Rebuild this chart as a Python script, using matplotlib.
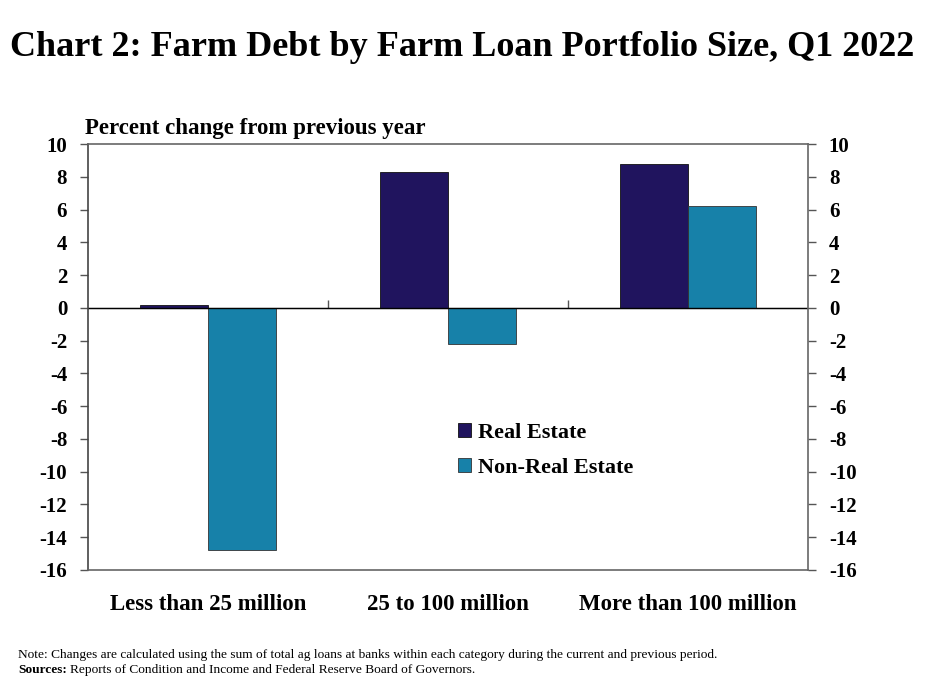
import numpy as np
import matplotlib
matplotlib.use('Agg')
import matplotlib.pyplot as plt

# data
categories = ['Less than 25 million', '25 to 100 million', 'More than 100 million']
real_estate = [0.2, 8.3, 8.8]
non_real_estate = [-14.8, -2.2, 6.2]
yticks = list(range(-16, 11, 2))

plt.rcParams['font.family'] = ['Liberation Serif', 'DejaVu Serif']
plt.rcParams['font.weight'] = 'bold'

fig = plt.figure(figsize=(9.25, 6.93), dpi=100)
ax = fig.add_axes([0.0951, 0.1775, 0.7784, 0.6147])

x = np.arange(len(categories))
w = 0.283
ax.bar(x - w / 2, real_estate, w, color='#20145e', edgecolor='#111111', linewidth=0.6, label='Real Estate')
ax.bar(x + w / 2, non_real_estate, w, color='#1781a9', edgecolor='#333333', linewidth=0.6, label='Non-Real Estate')

ax.set_xlim(-0.5, 2.5)
ax.set_ylim(-16, 10)
ax.set_yticks(yticks)
ax.set_yticklabels([str(t) for t in yticks], fontsize=15, fontweight='bold')
ax.tick_params(axis='y', which='both', direction='out', length=6, width=1, color='#555555',
               left=True, right=True, labelleft=True, labelright=True, pad=9)

ax.set_xticks(x)
ax.set_xticklabels(categories, fontsize=16.5, fontweight='bold')
ax.tick_params(axis='x', length=0, pad=17)

for s in ax.spines.values():
    s.set_color('#666666')
    s.set_linewidth(1.2)
ax.spines['left'].set_color('#444444')

# zero line with category separators
ax.axhline(0, color='black', linewidth=1)
zero_loc = (0 - ax.get_ylim()[0]) / (ax.get_ylim()[1] - ax.get_ylim()[0])
sec = ax.secondary_xaxis(zero_loc)
sec.set_xticks([0.5, 1.5])
sec.set_xticklabels([])
sec.tick_params(direction='out', length=6, width=1, color='#555555')
sec.spines['bottom'].set_visible(False)

ax.legend(loc='upper left', bbox_to_anchor=(0.486, 0.392), frameon=False,
          prop={'size': 16, 'weight': 'bold'}, handlelength=0.6, handleheight=0.6,
          handletextpad=0.3, labelspacing=0.68)

fig.text(0.5, 0.932, 'Chart 2: Farm Debt by Farm Loan Portfolio Size, Q1 2022',
         ha='center', va='center', fontsize=26, fontweight='bold')
fig.text(0.092, 0.815, 'Percent change from previous year', ha='left', va='center',
         fontsize=16.5, fontweight='bold')

fig.text(0.02, 0.055, 'Note: Changes are calculated using the sum of total ag loans at banks within each category during the current and previous period.',
         ha='left', va='center', fontsize=9.6, fontweight='normal')
src = fig.text(0.02, 0.033, 'Sources:', ha='left', va='center', fontsize=9.6, fontweight='bold')
r = fig.canvas.get_renderer()
bb = src.get_window_extent(renderer=r)
fig.text((bb.x1 + 3) / fig.bbox.width, 0.033,
         'Reports of Condition and Income and Federal Reserve Board of Governors.',
         ha='left', va='center', fontsize=9.6, fontweight='normal')

fig.savefig('out.png', dpi=100)
